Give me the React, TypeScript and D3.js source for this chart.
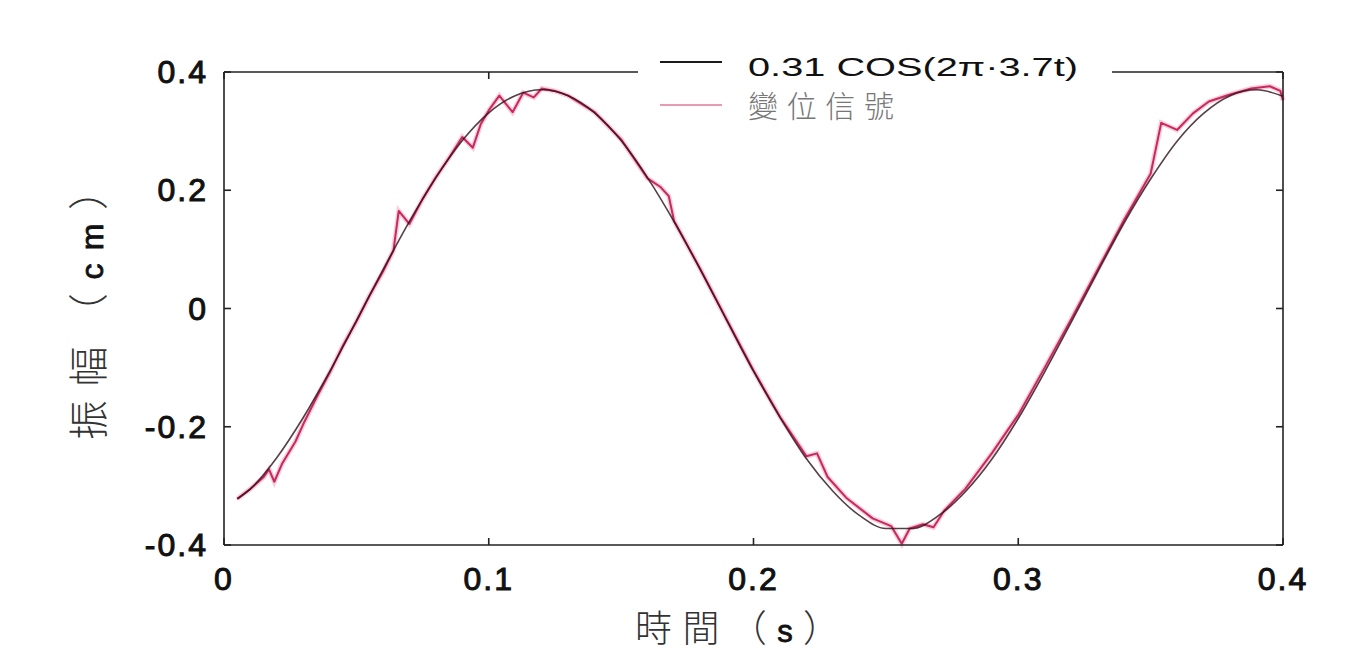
import React, { useEffect, useRef } from "react";
import * as d3 from "d3";

// reference curve 0.31 COS(2π·3.7t)
const cosT = [0.005, 0.01, 0.02, 0.03, 0.04, 0.05, 0.06, 0.07, 0.08, 0.09, 0.1, 0.11, 0.12, 0.13, 0.14, 0.15, 0.16, 0.17, 0.18, 0.19, 0.2, 0.21, 0.22, 0.23, 0.24, 0.25, 0.26, 0.27, 0.28, 0.29, 0.3, 0.31, 0.32, 0.33, 0.34, 0.35, 0.36, 0.37, 0.38, 0.39, 0.4];
const cosV = [-0.322, -0.305, -0.252, -0.184, -0.106, -0.021, 0.065, 0.147, 0.221, 0.284, 0.331, 0.36, 0.37, 0.36, 0.331, 0.284, 0.221, 0.147, 0.065, -0.021, -0.106, -0.184, -0.254, -0.309, -0.35, -0.372, -0.372, -0.35, -0.31, -0.255, -0.186, -0.107, -0.023, 0.062, 0.145, 0.219, 0.283, 0.33, 0.36, 0.37, 0.359];

// measured displacement signal (變位信號)
const sigT = [0.005, 0.01, 0.015, 0.017, 0.019, 0.022, 0.027, 0.03, 0.035, 0.04, 0.045, 0.05, 0.055, 0.06, 0.064, 0.066, 0.07, 0.075, 0.08, 0.085, 0.09, 0.094, 0.097, 0.1, 0.104, 0.109, 0.113, 0.117, 0.12, 0.125, 0.13, 0.14, 0.15, 0.16, 0.165, 0.168, 0.17, 0.18, 0.19, 0.2, 0.21, 0.22, 0.224, 0.228, 0.235, 0.245, 0.252, 0.256, 0.259, 0.264, 0.268, 0.272, 0.28, 0.29, 0.3, 0.31, 0.32, 0.33, 0.34, 0.35, 0.354, 0.36, 0.366, 0.372, 0.38, 0.388, 0.395, 0.399, 0.4];
const sigV = [-0.322, -0.305, -0.285, -0.272, -0.293, -0.262, -0.225, -0.195, -0.15, -0.108, -0.062, -0.022, 0.022, 0.062, 0.098, 0.165, 0.143, 0.185, 0.222, 0.255, 0.29, 0.272, 0.312, 0.335, 0.36, 0.332, 0.365, 0.357, 0.372, 0.368, 0.36, 0.332, 0.286, 0.22, 0.205, 0.19, 0.148, 0.066, -0.02, -0.105, -0.183, -0.25, -0.245, -0.285, -0.32, -0.355, -0.368, -0.398, -0.372, -0.365, -0.37, -0.342, -0.305, -0.245, -0.18, -0.1, -0.018, 0.066, 0.15, 0.228, 0.314, 0.302, 0.33, 0.35, 0.362, 0.372, 0.376, 0.368, 0.352];

const xTicks = [0, 0.1, 0.2, 0.3, 0.4];
const yTicks = [-0.4, -0.2, 0, 0.2, 0.4];
const legendLabels = ["0.31 COS(2π·3.7t)", "變位信號"];

export default function App() {
  const svgRef = useRef<SVGSVGElement>(null);

  useEffect(() => {
    const W = 1348, H = 654;
    const left = 224, right = 1283, top = 72, bottom = 545;
    const svg = d3.select(svgRef.current).attr("width", W).attr("height", H);
    svg.selectAll("*").remove();

    const x = d3.scaleLinear().domain([0, 0.4]).range([left, right]);
    const y = d3.scaleLinear().domain([-0.4, 0.4]).range([bottom, top]);
    const sans = "'Liberation Sans', Arial, sans-serif";
    const cjk = "'Noto Sans CJK TC', 'Noto Sans CJK SC', sans-serif";
    const fmt = (d: number) => String(d);

    svg.append("rect").attr("width", W).attr("height", H).attr("fill", "#fff");

    // --- curves ---
    const line = d3.line<[number, number]>().x(d => x(d[0])).y(d => y(d[1]));
    const sig = sigT.map((t, i) => [t, sigV[i]] as [number, number]);
    const ref = cosT.map((t, i) => [t, cosV[i]] as [number, number]);

    svg.append("path").attr("d", line(sig)).attr("fill", "none")
      .attr("stroke", "#f0a8c0").attr("stroke-width", 5).attr("opacity", 0.55);
    svg.append("path").attr("d", line(sig)).attr("fill", "none")
      .attr("stroke", "#c8285e").attr("stroke-width", 2).attr("stroke-linejoin", "round");
    svg.append("path").attr("d", d3.line<[number, number]>().curve(d3.curveMonotoneX).x(d => x(d[0])).y(d => y(d[1]))(ref))
      .attr("fill", "none").attr("stroke", "#2a1018").attr("stroke-width", 1.6).attr("opacity", 0.8);

    // --- frame ---
    const ax = svg.append("g").attr("stroke", "#222").attr("stroke-width", 1.6);
    ax.append("line").attr("x1", left).attr("x2", left).attr("y1", top).attr("y2", bottom);
    ax.append("line").attr("x1", right).attr("x2", right).attr("y1", top).attr("y2", bottom);
    ax.append("line").attr("x1", left).attr("x2", right).attr("y1", bottom).attr("y2", bottom);
    ax.append("line").attr("x1", left).attr("x2", right).attr("y1", top).attr("y2", top);
    xTicks.forEach(t => {
      ax.append("line").attr("x1", x(t)).attr("x2", x(t)).attr("y1", bottom).attr("y2", bottom - 7);
      ax.append("line").attr("x1", x(t)).attr("x2", x(t)).attr("y1", top).attr("y2", top + 7);
    });
    yTicks.forEach(v => {
      ax.append("line").attr("x1", left).attr("x2", left + 7).attr("y1", y(v)).attr("y2", y(v));
      ax.append("line").attr("x1", right).attr("x2", right - 7).attr("y1", y(v)).attr("y2", y(v));
    });

    // --- tick labels ---
    svg.append("g").selectAll("text").data(xTicks).join("text")
      .attr("x", d => x(d)).attr("y", 590).attr("text-anchor", "middle")
      .attr("font-family", sans).attr("font-size", 32).attr("letter-spacing", 2).attr("fill", "#111")
      .attr("stroke", "#111").attr("stroke-width", 1)
      .text(fmt);
    svg.append("g").selectAll("text").data(yTicks).join("text")
      .attr("x", left - 16).attr("y", d => y(d)).attr("dy", "0.35em").attr("text-anchor", "end")
      .attr("font-family", sans).attr("font-size", 32).attr("letter-spacing", 2).attr("fill", "#111")
      .attr("stroke", "#111").attr("stroke-width", 1)
      .text(fmt);

    // --- axis titles ---
    const xl = svg.append("text").attr("x", 635).attr("y", 642).attr("fill", "#333")
      .attr("textLength", 205).attr("lengthAdjust", "spacing");
    xl.append("tspan").attr("font-family", cjk).attr("font-size", 37).attr("font-weight", 300).text("時間（");
    xl.append("tspan").attr("font-family", sans).attr("font-size", 31).attr("fill", "#111")
      .attr("stroke", "#111").attr("stroke-width", 0.8).text("s");
    xl.append("tspan").attr("font-family", cjk).attr("font-size", 37).attr("font-weight", 300).text("）");

    const yl = svg.append("text").attr("transform", "translate(103,440) rotate(-90)")
      .attr("x", 0).attr("y", 0).attr("fill", "#333")
      .attr("textLength", 270).attr("lengthAdjust", "spacing");
    yl.append("tspan").attr("font-family", cjk).attr("font-size", 40).attr("font-weight", 300).text("振幅（");
    yl.append("tspan").attr("font-family", sans).attr("font-size", 32).attr("fill", "#111")
      .attr("stroke", "#111").attr("stroke-width", 0.8).text("cm");
    yl.append("tspan").attr("font-family", cjk).attr("font-size", 40).attr("font-weight", 300).text("）");

    // --- legend ---
    svg.append("rect").attr("x", 638).attr("y", 40).attr("width", 474).attr("height", 86).attr("fill", "#fff");
    const leg = svg.append("g");
    const colors = ["#1a1a1a", "#e79ab4"];
    legendLabels.forEach((lab, i) => {
      const ly = 62 + i * 43;
      leg.append("line").attr("x1", 660).attr("x2", 722).attr("y1", ly).attr("y2", ly)
        .attr("stroke", colors[i]).attr("stroke-width", i === 0 ? 1.8 : 2);
      const tx = leg.append("text").attr("x", 748).attr("y", i === 0 ? 76 : 117)
        .attr("font-family", i === 0 ? sans : cjk).attr("font-size", i === 0 ? 26 : 30)
        .attr("font-weight", i === 0 ? 400 : 300)
        .attr("fill", i === 0 ? "#111" : "#777").text(lab);
      if (i === 0) tx.attr("textLength", 330).attr("lengthAdjust", "spacingAndGlyphs");
      else tx.attr("textLength", 146).attr("lengthAdjust", "spacing");
    });
  }, []);

  return <svg ref={svgRef} style={{ position: "absolute", left: 0, top: 0, display: "block" }} />;
}
